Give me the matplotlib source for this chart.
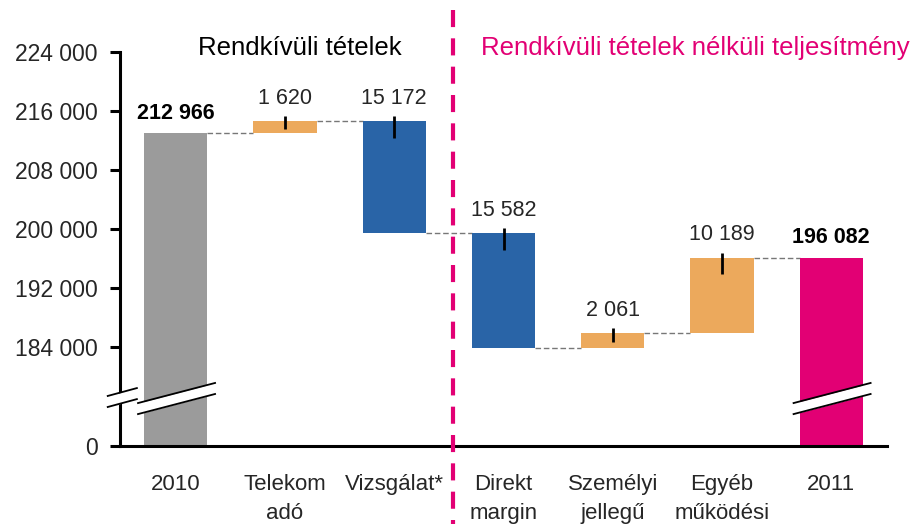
import numpy as np
import matplotlib
matplotlib.use("Agg")
import matplotlib.pyplot as plt
from matplotlib import font_manager
from matplotlib.transforms import blended_transform_factory

# data
categories = ["2010", "Telekom\nadó", "Vizsgálat*", "Direkt\nmargin",
              "Személyi\njellegű", "Egyéb\nműködési", "2011"]
start_value = 212966
changes = [1620, -15172, -15582, 2061, 10189]
end_value = 196082
change_labels = ["1 620", "15 172", "15 582", "2 061", "10 189"]
total_labels = ["212 966", "196 082"]
y_ticks = [0, 184000, 192000, 200000, 208000, 216000, 224000]
y_tick_labels = ["0", "184 000", "192 000", "200 000", "208 000", "216 000", "224 000"]
left_title = "Rendkívüli tételek"
right_title = "Rendkívüli tételek nélküli teljesítmény"

GREY = "#9b9b9b"
ORANGE = "#eca95c"
BLUE = "#2964a7"
MAGENTA = "#e20074"
TEXT = "#262626"


def pick_font(names):
    for name in names:
        try:
            font_manager.findfont(name, fallback_to_default=False)
            return name
        except ValueError:
            continue
    return "DejaVu Sans"


plt.rcParams["font.family"] = [pick_font(["Liberation Sans", "Arial"]), "DejaVu Sans"]

# broken y axis: everything below BREAK is squeezed into a short band
BREAK = 180000
ZERO_AT = 170576


def forward(v):
    v = np.asarray(v, dtype=float)
    return np.where(v >= BREAK, v, ZERO_AT + v * (BREAK - ZERO_AT) / BREAK)


def inverse(u):
    u = np.asarray(u, dtype=float)
    return np.where(u >= BREAK, u, (u - ZERO_AT) * BREAK / (BREAK - ZERO_AT))


fig = plt.figure(figsize=(9.11, 5.24), dpi=100)
ax = fig.add_axes([120 / 911, 1 - 446 / 524, 767 / 911, 394 / 524])
ax.set_yscale("function", functions=(forward, inverse))

x = np.arange(len(categories))
width = 0.58

# waterfall levels
levels = [start_value]
for c in changes:
    levels.append(levels[-1] + c)

ax.bar(x[0], start_value, width, color=GREY, zorder=2)
ax.bar(x[-1], end_value, width, color=MAGENTA, zorder=2)

for i, c in enumerate(changes):
    before = levels[i]
    after = levels[i + 1]
    color = ORANGE if c > 0 else BLUE
    ax.bar(x[i + 1], abs(c), width, bottom=min(before, after), color=color, zorder=2)
    top = max(before, after)
    # small sign tick at the top of each change bar
    depth = min(2200, 0.6 * abs(c))
    ax.vlines(x[i + 1], top - depth, top + 700, color="black", lw=2, zorder=3)
    ax.annotate(change_labels[i], (x[i + 1], top), xytext=(0, 9),
                textcoords="offset points", ha="center", va="bottom",
                fontsize=15.5, color=TEXT)

# connectors
for i in range(len(x) - 1):
    ax.hlines(levels[i], x[i] + width / 2, x[i + 1] - width / 2,
              color="#777777", lw=1, linestyles=(0, (4, 2)), zorder=1)

ax.annotate(total_labels[0], (x[0], start_value), xytext=(0, 7),
            textcoords="offset points", ha="center", va="bottom",
            fontsize=15.5, fontweight="bold", color="black")
ax.annotate(total_labels[1], (x[-1], end_value), xytext=(0, 7),
            textcoords="offset points", ha="center", va="bottom",
            fontsize=15.5, fontweight="bold", color="black")

ax.set_xlim(-0.51, 6.51)
ax.set_ylim(0, 224000)
ax.set_yticks(y_ticks)
ax.set_yticklabels(y_tick_labels)
ax.set_xticks(x)
ax.set_xticklabels(categories, linespacing=1.5)
ax.tick_params(axis="y", length=7, width=2.2, pad=9, labelsize=16.5, colors=TEXT)
ax.tick_params(axis="y", color="black")
ax.tick_params(axis="x", length=0, pad=20, labelsize=16, colors=TEXT)
for side in ["top", "right"]:
    ax.spines[side].set_visible(False)
for side in ["left", "bottom"]:
    ax.spines[side].set_linewidth(2.2)
    ax.spines[side].set_color("black")

# break marks on the tall bars and on the axis
bt = blended_transform_factory(ax.transData, ax.transAxes)
for xc in [x[0], x[-1]]:
    xs = [xc - 0.345, xc + 0.36]
    lo = [0.081, 0.132]
    hi = [0.109, 0.160]
    ax.fill_between(xs, lo, hi, color="white", transform=bt, zorder=4, lw=0)
    ax.plot(xs, lo, color="black", lw=1.3, transform=bt, zorder=5)
    ax.plot(xs, hi, color="black", lw=1.3, transform=bt, zorder=5)

axs = [-0.016, 0.022]
ax.fill_between(axs, [0.099, 0.119], [0.127, 0.147], color="white",
                transform=ax.transAxes, zorder=6, lw=0, clip_on=False)
ax.plot(axs, [0.099, 0.119], color="black", lw=1.3, transform=ax.transAxes,
        zorder=7, clip_on=False)
ax.plot(axs, [0.127, 0.147], color="black", lw=1.3, transform=ax.transAxes,
        zorder=7, clip_on=False)

# section divider
ax.plot([2.54, 2.54], [1.107, -0.2], color=MAGENTA, lw=3,
        linestyle=(0, (4.1, 2.7)), transform=bt, clip_on=False, zorder=6)

ax.text(1.14, 1.01, left_title, transform=bt, ha="center", va="center",
        fontsize=18.5, color="black")
ax.text(4.76, 1.01, right_title, transform=bt, ha="center", va="center",
        fontsize=18.5, color=MAGENTA)

fig.savefig("out.png", dpi=100)
